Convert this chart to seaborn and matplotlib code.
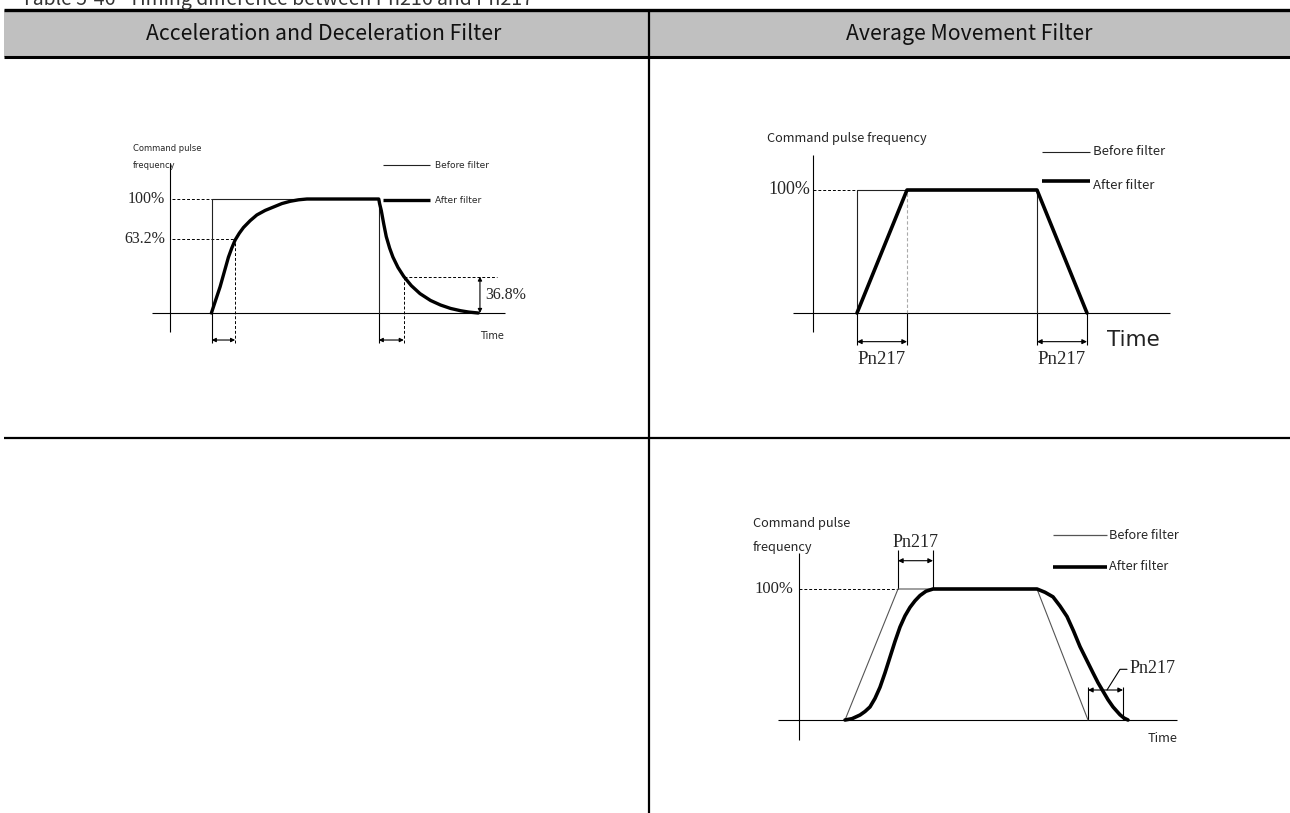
import matplotlib
matplotlib.use("Agg")
import matplotlib.pyplot as plt
import seaborn as sns
import pandas as pd

sns.set_theme(style="white")
plt.rcParams["font.family"] = ["Noto Sans CJK SC", "DejaVu Sans"]

W, H = 1290, 813

# ---- table text ----
title = "Table 5-46   Timing difference between Pn216 and Pn217"
headers = ["Acceleration and Deceleration Filter", "Average Movement Filter"]

# ---- diagram 1: acceleration / deceleration (exponential) filter ----
d1_before_t = [2.5, 2.5, 12.5, 12.5]
d1_before_v = [0, 100, 100, 0]
d1_after_t = [2.48, 2.75, 3.0, 3.25, 3.5, 3.7, 3.9, 4.15, 4.4, 4.8, 5.2, 5.7,
              6.2, 6.7, 7.2, 7.7, 8.2, 12.5, 12.55, 12.65, 12.8, 12.95, 13.15,
              13.35, 13.65, 14.0, 14.45, 14.97, 15.6, 16.2, 16.8, 17.4, 17.9, 18.46]
d1_after_v = [0, 12, 23, 36, 49, 57, 64, 70, 75, 81, 86, 90,
              93, 96, 98, 99.3, 100, 100, 96, 90, 78, 67, 57,
              49, 40, 32, 24, 17, 11, 7, 4, 2, 0.8, 0]
d1_levels = [100, 65]
d1_level_labels = ["100%", "63.2%"]
d1_tau_marks = [(2.5, 3.9), (12.5, 14.0)]
d1_decay_level = 32
d1_decay_label = "36.8%"

# ---- diagram 2: average movement filter (trapezoid) ----
d2_before_t = [4.4, 4.4, 22.4, 22.4]
d2_before_v = [0, 100, 100, 0]
d2_after_t = [4.4, 9.4, 22.4, 27.4]
d2_after_v = [0, 100, 100, 0]
d2_marks = [(4.4, 9.4), (22.4, 27.4)]

# ---- diagram 3: average movement filter (S-curve) ----
d3_before_t = [4.6, 9.9, 23.8, 28.9]
d3_before_v = [0, 100, 100, 0]
d3_after_t = [4.6, 5.3, 6.1, 6.6, 7.1, 7.6, 8.1, 8.6, 9.1, 9.6, 10.1, 10.6,
              11.1, 11.6, 12.1, 12.7, 13.4, 23.8, 24.6, 25.4, 26.1, 26.8,
              27.45, 28.1, 28.75, 29.4, 29.9, 30.4, 30.9, 31.4, 32.1, 32.5, 32.9]
d3_after_v = [0, 1, 3.8, 6.5, 10, 16.5, 25, 36, 48, 60, 71, 79.5,
              86, 91, 95, 98.3, 100, 100, 97.5, 94, 87, 79,
              68, 56, 46, 36, 28.5, 22, 15.5, 10, 4, 1.5, 0]
d3_top_mark = (9.9, 13.4)
d3_bottom_mark = (28.9, 32.4)

fig = plt.figure(figsize=(W / 100, H / 100), dpi=100)

# background axes in pixel units for the table frame
bg = fig.add_axes([0, 0, 1, 1])
bg.set_xlim(0, W)
bg.set_ylim(H, 0)
bg.axis("off")
bg.axhspan(10, 57, xmin=4 / W, xmax=1, color="#c0c0c0", lw=0)
bg.hlines(10, 4, W, color="black", lw=2.4)
bg.hlines(57.5, 4, W, color="black", lw=2.2)
bg.hlines(438, 4, W, color="black", lw=1.6)
bg.vlines(649, 10, H, color="black", lw=1.6)
bg.text(21, 5, title, fontsize=14, color="#333333", va="baseline", ha="left")
bg.text(324, 34, headers[0], fontsize=15.3, color="#111111", ha="center", va="center")
bg.text(969, 34, headers[1], fontsize=15.3, color="#111111", ha="center", va="center")


def diagram_axes(box, origin, px_per_t, px_per_100):
    x0, y0, x1, y1 = box
    ax = fig.add_axes([x0 / W, 1 - y1 / H, (x1 - x0) / W, (y1 - y0) / H])
    ox, oy = origin
    ax.set_xlim((x0 - ox) / px_per_t, (x1 - ox) / px_per_t)
    ax.set_ylim((oy - y1) / px_per_100 * 100, (oy - y0) / px_per_100 * 100)
    ax.axis("off")
    return ax


def curve(ax, t, v, color, lw):
    df = pd.DataFrame({"t": t, "v": v})
    sns.lineplot(data=df, x="t", y="v", ax=ax, color=color, linewidth=lw,
                 sort=False, estimator=None, solid_joinstyle="round",
                 solid_capstyle="round")


def arrow2(ax, p0, p1, ms=6, lw=0.8):
    ax.annotate("", xy=p1, xytext=p0,
                arrowprops=dict(arrowstyle="<|-|>", mutation_scale=ms, lw=lw,
                                color="black", shrinkA=0, shrinkB=0))


dash = (0, (3, 2))
serif = "Liberation Serif"

# ---------- diagram 1 ----------
ax1 = diagram_axes((100, 120, 530, 370), (170, 313), 16.7, 114)
ax1.vlines(0, -16.7, 131.6, color="black", lw=0.8)
ax1.hlines(0, -1.08, 20.06, color="black", lw=0.8)
for lvl, tend in zip(d1_levels, [d1_tau_marks[0][0], d1_tau_marks[0][1]]):
    ax1.hlines(lvl, 0.1, tend, color="black", lw=0.7, linestyles=dash)
ax1.vlines(d1_tau_marks[0][1], -26, d1_levels[1], color="black", lw=0.7, linestyles=dash)
ax1.vlines(d1_tau_marks[1][1], -26, d1_decay_level, color="black", lw=0.7, linestyles=dash)
ax1.hlines(d1_decay_level, d1_tau_marks[1][1], 19.6, color="black", lw=0.7, linestyles=dash)
for a, b in d1_tau_marks:
    ax1.vlines(a, -26, 0, color="black", lw=0.8)
    arrow2(ax1, (a, -23.7), (b, -23.7), ms=6)
arrow2(ax1, (18.56, d1_decay_level), (18.56, 0), ms=6)
curve(ax1, d1_before_t, d1_before_v, "#222222", 0.8)
curve(ax1, d1_after_t, d1_after_v, "black", 2.4)
for lvl, lab in zip(d1_levels, d1_level_labels):
    ax1.text(-0.3, lvl, lab, family=serif, fontsize=11.5, ha="right", va="center")
ax1.text(18.9, 16, d1_decay_label, family=serif, fontsize=11.5, ha="left", va="center")
ax1.text(-2.2, 144.7, "Command pulse", family="DejaVu Sans", fontsize=6, va="center")
ax1.text(-2.2, 129.8, "frequency", family="DejaVu Sans", fontsize=6, va="center")
ax1.text(18.56, -20, "Time", family="DejaVu Sans", fontsize=7, va="center")
ax1.hlines(129.8, 12.75, 15.57, color="#222222", lw=0.8)
ax1.hlines(99, 12.75, 15.57, color="black", lw=2.4)
ax1.text(15.87, 129.8, "Before filter", family="DejaVu Sans", fontsize=6.5, va="center")
ax1.text(15.87, 99, "After filter", family="DejaVu Sans", fontsize=6.5, va="center")

# ---------- diagram 2 ----------
ax2 = diagram_axes((750, 115, 1200, 380), (813, 313), 10, 123)
ax2.vlines(0, -15.4, 128.5, color="black", lw=0.8)
ax2.hlines(0, -2, 35.7, color="black", lw=0.8)
ax2.hlines(100, 0, d2_marks[0][0], color="black", lw=0.7, linestyles=dash)
ax2.vlines(d2_marks[0][1], 0, 100, color="#aaaaaa", lw=0.8, linestyles=dash)
for a, b in d2_marks:
    ax2.vlines([a, b], -26, 0, color="black", lw=0.8)
    arrow2(ax2, (a, -23.3), (b, -23.3), ms=7)
    ax2.text((a + b) / 2, -38.2, "Pn217", family=serif, fontsize=13.5, ha="center", va="center")
curve(ax2, d2_before_t, d2_before_v, "#222222", 0.8)
curve(ax2, d2_after_t, d2_after_v, "black", 2.6)
ax2.text(-0.3, 100, "100%", family=serif, fontsize=13, ha="right", va="center")
ax2.text(-4.6, 142, "Command pulse frequency", fontsize=9.2, va="center")
ax2.text(29.4, -22, "Time", family="DejaVu Sans", fontsize=15.5, color="#222222", va="center")
ax2.hlines(131, 22.9, 27.7, color="#222222", lw=0.8)
ax2.hlines(107, 22.9, 27.7, color="black", lw=2.6)
ax2.text(28, 131, "Before filter", fontsize=9.5, va="center")
ax2.text(28, 104, "After filter", fontsize=9.5, va="center")

# ---------- diagram 3 ----------
ax3 = diagram_axes((740, 505, 1200, 760), (799, 720), 10, 131)
ax3.vlines(0, -15.3, 127.5, color="black", lw=0.8)
ax3.hlines(0, -2.1, 37.8, color="black", lw=0.8)
ax3.hlines(100, 0, d3_top_mark[0], color="black", lw=0.7, linestyles=dash)
ax3.vlines(d3_top_mark, 100, 129.8, color="black", lw=0.8)
arrow2(ax3, (d3_top_mark[0], 121.6), (d3_top_mark[1], 121.6), ms=7)
ax3.text(sum(d3_top_mark) / 2, 135.6, "Pn217", family=serif, fontsize=13, ha="center", va="center")
ax3.vlines(d3_bottom_mark, 0, 25.4, color="black", lw=0.8)
arrow2(ax3, (d3_bottom_mark[0], 22.9), (d3_bottom_mark[1], 22.9), ms=7)
ax3.plot([30.8, 32.1, 32.8], [22.9, 38.7, 38.7], color="black", lw=0.8)
ax3.text(33.1, 39, "Pn217", family=serif, fontsize=13, ha="left", va="center")
curve(ax3, d3_before_t, d3_before_v, "#555555", 0.8)
curve(ax3, d3_after_t, d3_after_v, "black", 2.6)
ax3.text(-0.6, 100, "100%", family=serif, fontsize=12, ha="right", va="center")
ax3.text(-4.6, 150, "Command pulse", fontsize=9.2, va="center")
ax3.text(-4.6, 132, "frequency", fontsize=9.2, va="center")
ax3.text(37.8, -14.5, "Time", fontsize=9.2, ha="right", va="center")
ax3.hlines(141, 25.4, 30.8, color="#555555", lw=0.9)
ax3.hlines(117, 25.4, 30.8, color="black", lw=2.6)
ax3.text(31, 141, "Before filter", fontsize=9.2, va="center")
ax3.text(31, 117, "After filter", fontsize=9.2, va="center")

fig.savefig("out.png", dpi=100)
